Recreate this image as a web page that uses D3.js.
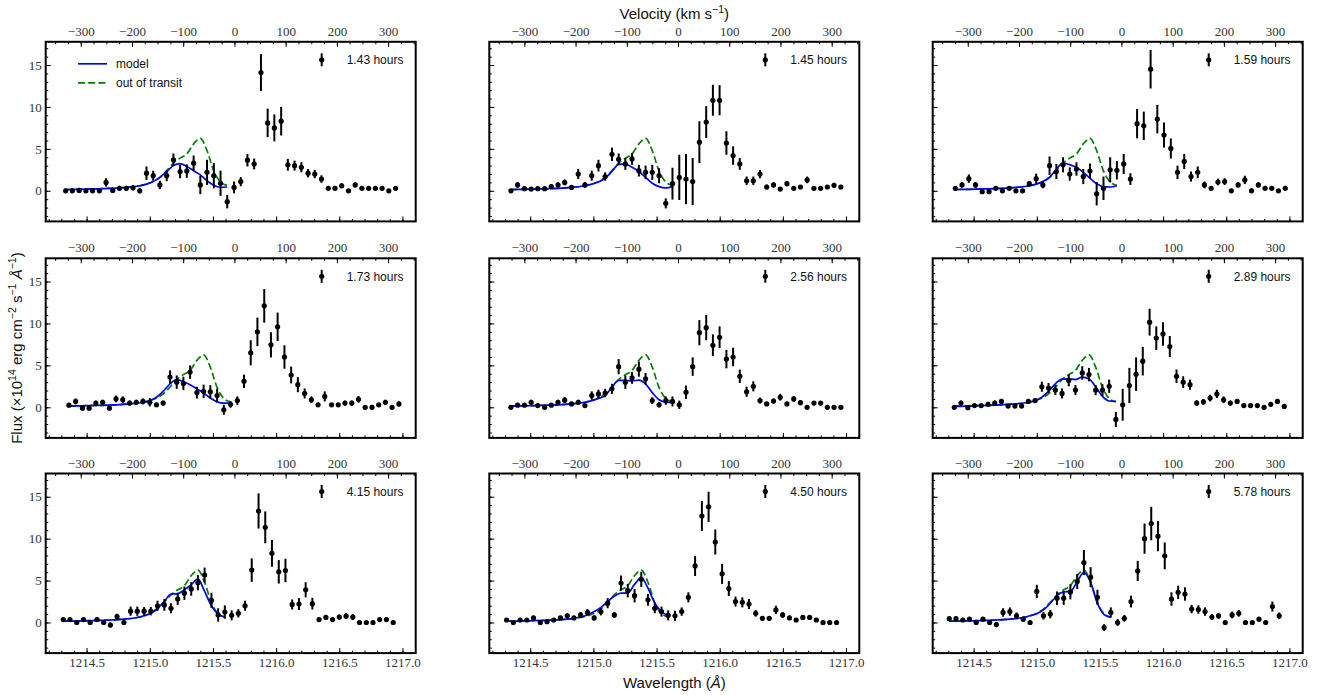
<!DOCTYPE html>
<html>
<head>
<meta charset="utf-8">
<script src="https://cdn.jsdelivr.net/npm/d3@7"></script>
<style>
    body { margin: 0; background: #fff; }
    svg { display: block; }
</style>
</head>
<body>
<svg id="chart" width="1330" height="695"></svg>
<script>
// Exposure time of each panel (hours after transit centre)
const hours = ['1.43', '1.45', '1.59', '1.73', '2.56', '2.89', '4.15', '4.50', '5.78'];

// Wavelength bins (Angstrom) and small per-exposure grid offsets
const wavelength = [1214.330, 1214.383, 1214.437, 1214.490, 1214.543, 1214.597, 1214.650, 1214.703, 1214.756, 1214.810,
    1214.863, 1214.916, 1214.970, 1215.023, 1215.076, 1215.130, 1215.183, 1215.236, 1215.289, 1215.343,
    1215.396, 1215.449, 1215.503, 1215.556, 1215.609, 1215.663, 1215.716, 1215.769, 1215.822, 1215.876,
    1215.929, 1215.982, 1216.036, 1216.089, 1216.142, 1216.196, 1216.249, 1216.302, 1216.355, 1216.409,
    1216.462, 1216.515, 1216.569, 1216.622, 1216.675, 1216.729, 1216.782, 1216.835, 1216.888, 1216.942];
const gridShift = [0.004, 0.017, 0.025, 0.030, 0.017, 0.017, -0.015, -0.017, -0.023];

// Flux and 1-sigma errors (x10^14 erg cm-2 s-1 A-1)
const flux143 = [0.0, 0.0, 0.05, 0.0, 0.0, 0.0, 1.0, 0.05, 0.3, 0.3, 0.35, 0.0, 2.1, 1.8, 0.7, 1.8, 3.7, 2.3, 2.35, 3.3, 0.7, 2.2, 1.8, 0.9, -1.3, 0.4, 1.1, 3.65, 3.2, 14.1, 8.1, 7.5, 8.3, 3.1, 3.0, 2.8, 2.1, 2.0, 1.4, 0.3, 0.3, 0.6, 0.0, 0.7, 0.3, 0.3, 0.3, 0.3, 0.0, 0.3];
const err143 = [0.25, 0.25, 0.25, 0.25, 0.25, 0.25, 0.5, 0.3, 0.3, 0.3, 0.3, 0.3, 0.8, 0.6, 0.5, 0.65, 0.75, 0.8, 0.8, 0.9, 1.1, 1.5, 1.5, 1.5, 0.8, 0.7, 0.55, 0.75, 0.65, 2.2, 1.7, 1.6, 1.7, 0.7, 0.6, 0.6, 0.5, 0.5, 0.45, 0.2, 0.2, 0.3, 0.2, 0.3, 0.2, 0.2, 0.2, 0.2, 0.2, 0.2];
const flux145 = [0.0, 0.7, 0.25, 0.2, 0.25, 0.25, 0.5, 0.7, 1.0, 0.4, 2.0, 0.7, 1.8, 3.0, 1.7, 4.35, 3.75, 3.2, 3.8, 2.4, 2.2, 2.2, 1.8, -1.5, 0.85, 1.6, 1.4, 1.1, 5.8, 8.2, 10.8, 10.8, 5.7, 4.2, 3.2, 1.2, 1.2, 2.0, 0.45, 0.7, 0.2, 0.85, 0.3, 0.45, 1.3, 0.3, 0.3, 0.45, 0.65, 0.45];
const err145 = [0.2, 0.35, 0.2, 0.2, 0.2, 0.2, 0.25, 0.3, 0.35, 0.25, 0.6, 0.35, 0.6, 0.7, 0.5, 0.8, 0.7, 0.7, 0.7, 0.7, 0.8, 0.9, 0.9, 0.6, 1.9, 2.7, 3.0, 2.8, 2.5, 1.9, 1.85, 1.8, 1.4, 1.1, 0.7, 0.5, 0.5, 0.5, 0.3, 0.3, 0.2, 0.3, 0.2, 0.25, 0.4, 0.2, 0.2, 0.2, 0.3, 0.25];
const flux159 = [0.3, 0.7, 1.45, 0.7, -0.1, -0.1, 0.3, 0.0, 0.3, 0.0, 0.0, 0.85, 1.45, 0.7, 3.0, 2.3, 3.1, 2.0, 2.6, 1.7, 2.35, -0.35, 0.3, 2.5, 2.45, 3.2, 1.4, 8.0, 7.75, 14.5, 8.55, 6.65, 5.05, 2.2, 3.5, 1.7, 2.2, 0.7, 0.3, 1.05, 1.1, 0.0, 0.7, 1.3, 0.0, 0.7, 0.3, 0.3, 0.0, 0.3];
const err159 = [0.2, 0.3, 0.5, 0.35, 0.2, 0.2, 0.2, 0.2, 0.2, 0.2, 0.2, 0.3, 0.6, 0.4, 1.1, 0.9, 0.9, 0.8, 0.8, 0.9, 0.9, 1.4, 1.4, 1.5, 1.1, 1.2, 0.7, 1.75, 1.7, 2.3, 1.7, 1.5, 1.2, 0.8, 0.9, 0.6, 0.7, 0.4, 0.25, 0.4, 0.4, 0.2, 0.3, 0.5, 0.25, 0.3, 0.2, 0.2, 0.2, 0.2];
const flux173 = [0.25, 0.7, -0.1, -0.1, 0.5, 0.6, -0.1, 1.0, 0.9, 0.5, 0.6, 0.7, 0.6, 0.3, 0.5, 3.6, 3.0, 2.85, 4.2, 1.75, 1.9, 1.85, 1.4, -0.3, 0.35, 0.8, 3.1, 6.5, 9.0, 12.1, 7.45, 9.6, 6.0, 3.85, 2.7, 1.65, 0.9, 0.3, 1.3, 0.3, 0.3, 0.5, 0.5, 0.95, 0.0, 0.0, 0.3, 0.6, 0.0, 0.4];
const err173 = [0.25, 0.35, 0.2, 0.2, 0.3, 0.3, 0.2, 0.4, 0.4, 0.3, 0.3, 0.35, 0.5, 0.25, 0.3, 0.8, 0.8, 0.8, 0.8, 0.7, 0.8, 0.8, 0.8, 0.6, 0.4, 0.5, 0.8, 1.5, 1.7, 2.0, 1.5, 1.7, 1.4, 1.0, 0.9, 0.6, 0.4, 0.25, 0.6, 0.2, 0.2, 0.3, 0.3, 0.4, 0.2, 0.2, 0.2, 0.3, 0.2, 0.3];
const flux256 = [0.0, 0.25, 0.25, 0.6, 0.2, 0.0, 0.25, 0.6, 0.85, 0.4, 0.6, 0.2, 1.4, 1.6, 1.7, 2.2, 4.85, 3.0, 3.5, 4.55, 3.4, 0.8, 0.3, 0.8, 0.7, 0.3, 1.8, 4.85, 8.9, 9.5, 7.4, 8.35, 5.75, 6.0, 3.7, 1.85, 2.5, 0.8, 0.4, 0.75, 1.2, 0.4, 1.0, 0.55, 0.0, 0.5, 0.5, 0.0, 0.0, 0.0];
const err256 = [0.2, 0.2, 0.2, 0.3, 0.2, 0.2, 0.2, 0.3, 0.35, 0.25, 0.3, 0.2, 0.5, 0.5, 0.5, 0.6, 0.9, 0.8, 0.7, 0.9, 0.7, 0.4, 0.3, 0.5, 0.6, 0.5, 0.8, 1.1, 1.5, 1.5, 1.3, 1.3, 1.1, 1.1, 0.8, 0.6, 0.6, 0.35, 0.25, 0.3, 0.4, 0.25, 0.35, 0.3, 0.2, 0.25, 0.25, 0.2, 0.2, 0.2];
const flux289 = [0.0, 0.5, -0.05, 0.2, 0.2, 0.35, 0.5, 0.7, 0.15, 0.15, 0.15, 0.7, 0.8, 2.45, 2.3, 2.05, 1.65, 3.2, 2.05, 4.1, 3.9, 2.05, 2.05, 2.5, -1.45, 0.3, 2.6, 3.95, 5.5, 10.15, 8.25, 8.75, 7.25, 3.7, 3.0, 2.7, 0.5, 0.65, 1.1, 1.6, 0.9, 0.5, 0.7, 0.2, 0.2, 0.2, 0.0, 0.35, 0.7, 0.1];
const err289 = [0.2, 0.3, 0.2, 0.2, 0.2, 0.25, 0.3, 0.3, 0.2, 0.2, 0.2, 0.3, 0.3, 0.6, 0.6, 0.6, 0.6, 0.7, 0.6, 0.8, 0.8, 0.6, 0.7, 0.8, 0.9, 1.9, 2.1, 2.0, 1.7, 1.6, 1.4, 1.4, 1.25, 0.8, 0.7, 0.6, 0.35, 0.35, 0.4, 0.5, 0.4, 0.3, 0.3, 0.2, 0.2, 0.2, 0.2, 0.25, 0.3, 0.2];
const flux415 = [0.35, 0.35, 0.0, 0.35, 0.0, 0.35, 0.0, -0.3, 0.7, 0.0, 1.35, 1.35, 1.35, 1.35, 2.0, 2.1, 1.7, 2.8, 3.5, 4.0, 4.75, 5.65, 2.65, 0.9, 1.25, 0.85, 1.1, 2.0, 6.25, 13.3, 11.35, 8.25, 6.05, 6.2, 2.15, 2.2, 3.9, 2.25, 0.35, 0.6, 0.35, 0.65, 0.75, 0.65, 0.0, 0.0, 0.0, 0.35, 0.35, 0.0];
const err415 = [0.25, 0.25, 0.2, 0.25, 0.2, 0.25, 0.2, 0.3, 0.35, 0.25, 0.55, 0.55, 0.5, 0.5, 0.6, 0.7, 0.6, 0.7, 0.8, 0.8, 0.9, 0.9, 0.9, 0.8, 0.8, 0.6, 0.5, 0.6, 1.4, 2.1, 1.9, 1.6, 1.4, 1.4, 0.6, 0.7, 0.9, 0.7, 0.2, 0.3, 0.2, 0.3, 0.35, 0.35, 0.2, 0.2, 0.2, 0.2, 0.2, 0.2];
const flux450 = [0.3, 0.0, 0.3, 0.3, 0.55, 0.0, 0.1, 0.3, 0.55, 0.8, 0.55, 0.9, 1.2, 0.55, 1.3, 2.3, 0.9, 4.7, 3.8, 3.2, 5.15, 2.7, 1.7, 1.3, 0.85, 0.8, 1.3, 3.0, 6.75, 12.7, 13.8, 9.6, 5.8, 4.05, 2.5, 2.4, 2.2, 1.1, 0.5, 0.5, 1.5, 0.9, 0.55, 0.3, 0.6, 0.6, 0.3, 0.0, 0.0, 0.0];
const err450 = [0.2, 0.2, 0.2, 0.2, 0.25, 0.2, 0.2, 0.2, 0.25, 0.3, 0.25, 0.35, 0.4, 0.3, 0.45, 0.6, 0.35, 0.9, 0.8, 0.8, 0.9, 0.7, 0.6, 0.6, 0.6, 0.6, 0.5, 0.6, 1.2, 1.8, 1.8, 1.5, 1.2, 0.9, 0.6, 0.6, 0.6, 0.4, 0.25, 0.25, 0.5, 0.35, 0.25, 0.2, 0.25, 0.25, 0.2, 0.2, 0.2, 0.2];
const flux578 = [0.45, 0.45, 0.3, 0.4, 0.0, 0.4, 0.0, -0.25, 1.2, 1.3, 0.8, 0.4, 0.0, 3.7, 0.8, 1.0, 2.9, 2.9, 3.65, 4.9, 7.15, 5.4, 3.0, -0.6, 1.2, 0.0, 0.5, 2.5, 6.15, 10.0, 11.8, 10.3, 7.95, 2.8, 3.6, 3.4, 1.6, 1.55, 1.3, 0.65, 0.8, 0.0, 0.9, 1.1, 0.0, 0.0, 0.4, 0.0, 1.9, 0.8];
const err578 = [0.25, 0.25, 0.25, 0.25, 0.25, 0.25, 0.3, 0.3, 0.5, 0.5, 0.4, 0.3, 0.25, 0.8, 0.45, 0.5, 0.8, 0.8, 0.9, 0.9, 1.5, 1.2, 0.9, 0.4, 0.6, 0.4, 0.4, 0.7, 1.2, 1.8, 2.0, 1.8, 1.6, 0.8, 0.8, 0.8, 0.5, 0.5, 0.5, 0.35, 0.35, 0.25, 0.4, 0.4, 0.25, 0.25, 0.25, 0.25, 0.6, 0.4];

// Model profiles on the first 25 bins (blue wing only)
const outOfTransit = [0.15, 0.16, 0.18, 0.2, 0.22, 0.24, 0.27, 0.3, 0.34, 0.4, 0.48, 0.6, 0.8, 1.1, 1.6, 2.4, 3.3, 3.9, 4.4, 5.6, 6.25, 4.8, 2.35, 1.05, 0.65];
const model143 = [0.15, 0.16, 0.18, 0.2, 0.22, 0.24, 0.27, 0.3, 0.34, 0.4, 0.48, 0.6, 0.8, 1.1, 1.6, 2.3, 3.0, 3.25, 2.9, 2.4, 1.9, 1.2, 0.65, 0.42, 0.45];
const model145 = [0.15, 0.16, 0.18, 0.2, 0.22, 0.24, 0.27, 0.3, 0.34, 0.4, 0.48, 0.6, 0.8, 1.05, 1.5, 2.3, 3.15, 3.2, 2.8, 2.3, 1.6, 0.9, 0.5, 0.35, 0.5];
const model159 = [0.15, 0.16, 0.18, 0.2, 0.22, 0.24, 0.27, 0.3, 0.34, 0.4, 0.48, 0.6, 0.8, 1.1, 1.6, 2.6, 3.3, 3.1, 2.8, 2.2, 1.5, 0.85, 0.5, 0.45, 0.6];
const model173 = [0.15, 0.16, 0.18, 0.2, 0.22, 0.24, 0.27, 0.3, 0.34, 0.4, 0.48, 0.6, 0.8, 1.2, 1.9, 2.8, 3.3, 3.05, 2.7, 2.2, 1.7, 1.1, 0.65, 0.5, 0.5];
const model256 = [0.15, 0.16, 0.18, 0.2, 0.22, 0.24, 0.27, 0.3, 0.34, 0.4, 0.48, 0.6, 0.8, 1.05, 1.4, 2.4, 3.2, 3.2, 3.15, 3.25, 2.8, 1.75, 0.9, 0.6, 0.55];
const model289 = [0.1, 0.12, 0.15, 0.18, 0.2, 0.23, 0.26, 0.3, 0.34, 0.4, 0.48, 0.6, 0.8, 1.2, 1.9, 2.8, 3.35, 3.4, 3.3, 3.6, 3.4, 2.45, 1.3, 0.75, 0.7];
const model415 = [0.15, 0.16, 0.18, 0.2, 0.22, 0.24, 0.27, 0.3, 0.34, 0.4, 0.48, 0.6, 0.8, 1.1, 1.7, 2.5, 3.4, 3.45, 3.9, 4.5, 5.2, 3.7, 2.0, 1.0, 0.65];
const model450 = [0.15, 0.16, 0.18, 0.2, 0.22, 0.24, 0.27, 0.3, 0.34, 0.4, 0.5, 0.65, 0.9, 1.3, 1.8, 2.5, 3.15, 3.5, 3.5, 4.55, 5.35, 4.1, 2.3, 1.3, 0.8];
const model578 = [0.15, 0.16, 0.18, 0.2, 0.22, 0.24, 0.27, 0.3, 0.34, 0.4, 0.48, 0.6, 0.8, 1.05, 1.5, 2.3, 3.2, 3.65, 3.7, 4.9, 5.95, 4.8, 2.3, 0.95, 0.6];

// Tick labels
const velocityTicks = [-300, -200, -100, 0, 100, 200, 300];
const waveTicks = [1214.5, 1215.0, 1215.5, 1216.0, 1216.5, 1217.0];
const fluxTicks = [0, 5, 10, 15];

const fluxes = [flux143, flux145, flux159, flux173, flux256, flux289, flux415, flux450, flux578];
const errors = [err143, err145, err159, err173, err256, err289, err415, err450, err578];
const models = [model143, model145, model159, model173, model256, model289, model415, model450, model578];

const panels = hours.map((h, i) => ({
    hours: h,
    points: fluxes[i].map((f, k) => ({ w: wavelength[k] + gridShift[i], f: f, e: errors[i][k] })),
    model: models[i].map((f, k) => ({ w: wavelength[k] + gridShift[i], f: f })),
    oot: outOfTransit.map((f, k) => ({ w: wavelength[k] + gridShift[i], f: f }))
}));

// Layout
const colLeft = [45.7, 489.3, 932.7];
const rowTop = [41.8, 258.3, 473.5];
const pw = 370, ph = 179.6;
const serif = "'Liberation Serif', 'DejaVu Serif', serif";
const sans = "'Liberation Sans', Arial, sans-serif";
const dash = '7,3.2';

const LYA = 1215.67, C = 299792.458;
const toVel = w => (w - LYA) / LYA * C;

const x = d3.scaleLinear().domain([1214.176, 1217.105]).range([0, pw]);
const xv = d3.scaleLinear().domain(x.domain().map(toVel)).range([0, pw]);
const y = d3.scaleLinear().domain([-3.65, 17.77]).range([ph, 0]);

const waveMinor = d3.range(1214.2, 1217.11, 0.1);
const velMinor = d3.range(-350, 351, 25);
const fluxMinor = d3.range(-3, 18, 1);

const svg = d3.select('#chart');

// Clean up an axis group
const styleAxis = g => {
    g.select('.domain').remove();
    g.attr('font-family', null).attr('font-size', null);
    g.selectAll('.tick line').attr('stroke', '#000').attr('stroke-width', 1);
    g.selectAll('.tick text')
        .attr('font-family', serif)
        .attr('font-size', 13)
        .attr('fill', '#333');
};

const line = d3.line()
    .x(d => x(d.w))
    .y(d => y(d.f))
    .curve(d3.curveMonotoneX);

panels.forEach((p, i) => {
    const col = i % 3, row = Math.floor(i / 3);
    const g = svg.append('g')
        .attr('transform', `translate(${colLeft[col]},${rowTop[row]})`);

    // Bottom axis (wavelength)
    g.append('g')
        .attr('transform', `translate(0,${ph})`)
        .call(d3.axisBottom(x).tickValues(waveMinor).tickSize(-2.5).tickFormat(() => ''))
        .call(styleAxis);
    g.append('g')
        .attr('transform', `translate(0,${ph})`)
        .call(d3.axisBottom(x).tickValues(waveTicks).tickSize(-5).tickPadding(5)
            .tickFormat(row === 2 ? d3.format('.1f') : () => ''))
        .call(styleAxis);

    // Top axis (velocity)
    g.append('g')
        .call(d3.axisTop(xv).tickValues(velMinor).tickSize(-2.5).tickFormat(() => ''))
        .call(styleAxis);
    g.append('g')
        .call(d3.axisTop(xv).tickValues(velocityTicks).tickSize(-5).tickPadding(6))
        .call(styleAxis);

    // Left axis (flux)
    g.append('g')
        .call(d3.axisLeft(y).tickValues(fluxMinor).tickSize(-2.5).tickFormat(() => ''))
        .call(styleAxis);
    g.append('g')
        .call(d3.axisLeft(y).tickValues(fluxTicks).tickSize(-5).tickPadding(4)
            .tickFormat(col === 0 ? d3.format('d') : () => ''))
        .call(styleAxis);

    // Model lines
    g.append('path')
        .datum(p.oot)
        .attr('d', line)
        .attr('fill', 'none')
        .attr('stroke', '#008000')
        .attr('stroke-width', 1.7)
        .attr('stroke-dasharray', dash);
    g.append('path')
        .datum(p.model)
        .attr('d', line)
        .attr('fill', 'none')
        .attr('stroke', '#0000ff')
        .attr('stroke-width', 1.7);

    // Error bars and points
    const pts = g.append('g').attr('class', 'points');
    pts.selectAll('line')
        .data(p.points)
        .join('line')
        .attr('x1', d => x(d.w))
        .attr('x2', d => x(d.w))
        .attr('y1', d => y(d.f - d.e))
        .attr('y2', d => y(d.f + d.e))
        .attr('stroke', '#000')
        .attr('stroke-width', 2);
    pts.selectAll('circle')
        .data(p.points)
        .join('circle')
        .attr('cx', d => x(d.w))
        .attr('cy', d => y(d.f))
        .attr('r', 2.6)
        .attr('fill', '#000');

    // Frame
    g.append('rect')
        .attr('width', pw)
        .attr('height', ph)
        .attr('fill', 'none')
        .attr('stroke', '#000')
        .attr('stroke-width', 2);

    // Errorbar legend entry
    const leg = g.append('g').attr('transform', 'translate(276,18)');
    leg.append('line')
        .attr('y1', -6.5).attr('y2', 6.5)
        .attr('stroke', '#000').attr('stroke-width', 2);
    leg.append('circle').attr('r', 2.6).attr('fill', '#000');
    leg.append('text')
        .attr('x', 25)
        .attr('dy', '0.35em')
        .attr('font-family', sans)
        .attr('font-size', 12)
        .attr('fill', '#111')
        .text(`${p.hours} hours`);

    // Model legend in the first panel
    if (i === 0) {
        const items = [
            { label: 'model', color: '#0000ff', dash: null, dy: 22 },
            { label: 'out of transit', color: '#008000', dash: dash, dy: 41 }
        ];
        items.forEach(it => {
            g.append('line')
                .attr('x1', 32.3).attr('x2', 61.3)
                .attr('y1', it.dy).attr('y2', it.dy)
                .attr('stroke', it.color)
                .attr('stroke-width', 1.7)
                .attr('stroke-dasharray', it.dash);
            g.append('text')
                .attr('x', 70.3)
                .attr('y', it.dy)
                .attr('dy', '0.35em')
                .attr('font-family', sans)
                .attr('font-size', 12)
                .attr('fill', '#111')
                .text(it.label);
        });
    }
});

// Rich text helper: parts = [text, style] with style 'sup' or 'it'
const richText = (sel, parts) => {
    let raised = false;
    parts.forEach(([t, s]) => {
        const ts = sel.append('tspan').text(t);
        if (s === 'sup') {
            ts.attr('font-size', 10.5).attr('dy', raised ? 0 : -6);
            raised = true;
        } else {
            if (raised) ts.attr('dy', 6);
            raised = false;
            if (s === 'it') ts.attr('font-style', 'italic');
        }
    });
};

// Velocity label
const midX = colLeft[1] + pw / 2;
richText(svg.append('text')
    .attr('x', midX)
    .attr('y', 19)
    .attr('text-anchor', 'middle')
    .attr('font-family', sans)
    .attr('font-size', 15)
    .attr('fill', '#111'),
    [['Velocity (km s', null], ['\u22121', 'sup'], [')', null]]);

// Wavelength label
richText(svg.append('text')
    .attr('x', midX)
    .attr('y', 688)
    .attr('text-anchor', 'middle')
    .attr('font-family', sans)
    .attr('font-size', 15)
    .attr('fill', '#111'),
    [['Wavelength (', null], ['\u00C5', 'it'], [')', null]]);

// Flux label
richText(svg.append('text')
    .attr('transform', `translate(22,${rowTop[1] + ph / 2}) rotate(-90)`)
    .attr('text-anchor', 'middle')
    .attr('font-family', sans)
    .attr('font-size', 15)
    .attr('fill', '#111'),
    [['Flux (\u00D710', null], ['14', 'sup'], [' erg cm', null], ['\u22122', 'sup'],
     [' s', null], ['\u22121', 'sup'], [' ', null], ['\u00C5', 'it'], ['\u22121', 'sup'], [')', null]]);
</script>
</body>
</html>
